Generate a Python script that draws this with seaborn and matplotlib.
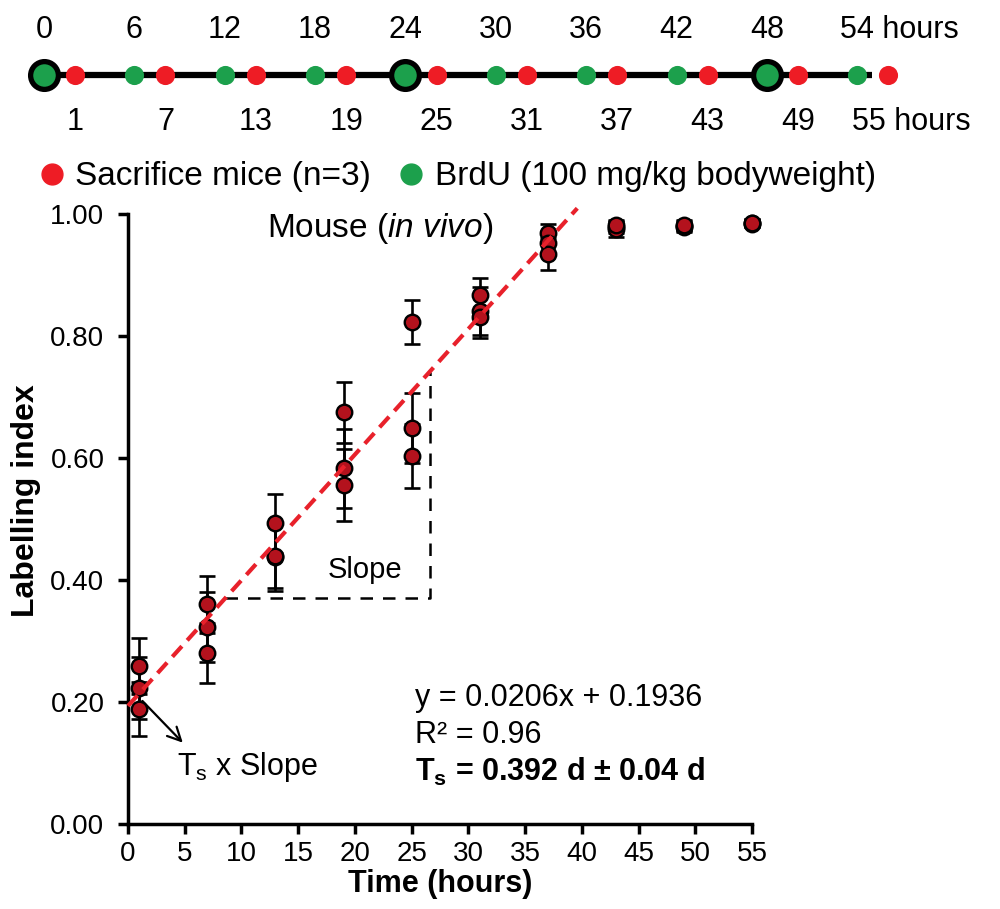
import numpy as np
import pandas as pd
import matplotlib
matplotlib.use("Agg")
import matplotlib.pyplot as plt
import matplotlib.transforms as mtransforms
from matplotlib.lines import Line2D
import seaborn as sns

# ---------------- data ----------------
time_h = [1, 1, 1, 7, 7, 7, 13, 13, 13, 19, 19, 19, 25, 25, 25,
          31, 31, 31, 37, 37, 37, 43, 43, 43, 49, 49, 49, 55, 55, 55]
labelling_index = [0.259, 0.223, 0.188, 0.360, 0.323, 0.280,
                   0.493, 0.437, 0.440, 0.675, 0.583, 0.556,
                   0.823, 0.649, 0.603, 0.867, 0.841, 0.831,
                   0.969, 0.952, 0.934, 0.979, 0.975, 0.982,
                   0.980, 0.978, 0.982, 0.985, 0.984, 0.986]
sd = [0.046, 0.051, 0.044, 0.047, 0.057, 0.049,
      0.048, 0.055, 0.053, 0.050, 0.065, 0.059,
      0.036, 0.057, 0.052, 0.028, 0.040, 0.034,
      0.015, 0.020, 0.026, 0.010, 0.012, 0.008,
      0.008, 0.008, 0.008, 0.006, 0.006, 0.006]

fit_slope = 0.0206
fit_intercept = 0.1936
fit_x_range = [0, 39.6]
slope_box_x = [8.56, 26.6]

brdu_hours = [0, 6, 12, 18, 24, 30, 36, 42, 48, 54]
sacrifice_hours = [1, 7, 13, 19, 25, 31, 37, 43, 49, 55]
ring_hours = [0, 24, 48]
brdu_labels = ["0", "6", "12", "18", "24", "30", "36", "42", "48", "54 hours"]
sacrifice_labels = ["1", "7", "13", "19", "25", "31", "37", "43", "49", "55 hours"]

x_ticks = [0, 5, 10, 15, 20, 25, 30, 35, 40, 45, 50, 55]
y_ticks = [0.0, 0.2, 0.4, 0.6, 0.8, 1.0]
y_ticklabels = ["0.00", "0.20", "0.40", "0.60", "0.80", "1.00"]

df = pd.DataFrame({"time": time_h, "li": labelling_index, "sd": sd})

# ---------------- style ----------------
sns.set_theme(style="ticks")
plt.rcParams["font.family"] = ["Liberation Sans", "DejaVu Sans"]
plt.rcParams["mathtext.fontset"] = "custom"
plt.rcParams["mathtext.rm"] = "Liberation Sans"
plt.rcParams["mathtext.it"] = "Liberation Sans:italic"
plt.rcParams["mathtext.bf"] = "Liberation Sans:bold"
for k in ["text.color", "axes.labelcolor", "xtick.color", "ytick.color"]:
    plt.rcParams[k] = "black"

RED_PT = "#b3121d"
RED_TOP = "#ee1c25"
GREEN = "#1ca04c"
RED_LINE = "#e8212b"

fig = plt.figure(figsize=(10, 9.09), dpi=100)

# ---------------- main axes ----------------
ax = fig.add_axes([0.128, 0.0935, 0.624, 0.6711])

ax.errorbar(df["time"], df["li"], yerr=df["sd"], fmt="none", ecolor="black",
            elinewidth=1.9, capsize=6, capthick=1.9, zorder=2, clip_on=False)
sns.scatterplot(data=df, x="time", y="li", color=RED_PT, edgecolor="black",
                s=125, linewidth=1.7, zorder=3, ax=ax, clip_on=False, legend=False)

fx = np.array(fit_x_range)
ax.plot(fx, fit_slope * fx + fit_intercept, color=RED_LINE, lw=3,
        ls=(0, (3.4, 1.9)), zorder=4, clip_on=False)

# slope triangle (dashed)
by = fit_slope * np.array(slope_box_x) + fit_intercept
ax.plot([slope_box_x[0], slope_box_x[1], slope_box_x[1]], [by[0], by[0], by[1]],
        color="black", lw=1.8, ls=(0, (5, 4)), zorder=1)
ax.text(20.9, 0.416, "Slope", fontsize=21, ha="center", va="center")

# arrow
ax.annotate("", xy=(5.0, 0.13), xytext=(1.1, 0.205),
            arrowprops=dict(arrowstyle="->", lw=1.6, color="black", mutation_scale=24))
ax.text(4.3, 0.080, r"$\mathregular{T_s}$ x Slope", fontsize=22, ha="left", va="baseline")

# equation block
ax.text(25.3, 0.193, "y = 0.0206x + 0.1936", fontsize=22, ha="left", va="baseline")
ax.text(25.3, 0.132, "R² = 0.96", fontsize=22, ha="left", va="baseline")
ax.text(25.3, 0.071, r"$\mathbf{T_s}$ = 0.392 d ± 0.04 d", fontsize=22,
        ha="left", va="baseline", fontweight="bold")

ax.text(22.2, 0.977, r"Mouse ($\mathit{in\ vivo}$)", fontsize=24, ha="center", va="center")

ax.set_xlim(0, 55)
ax.set_ylim(0, 1)
ax.set_xticks(x_ticks)
ax.set_yticks(y_ticks)
ax.set_yticklabels(y_ticklabels)
ax.tick_params(axis="both", labelsize=20, length=7, width=2.5, color="black",
               direction="out")
ax.tick_params(axis="y", pad=10)
ax.tick_params(axis="x", pad=5)
for s in ["left", "bottom"]:
    ax.spines[s].set_linewidth(2.5)
    ax.spines[s].set_color("black")
sns.despine(ax=ax)
ax.set_xlabel("Time (hours)", fontsize=22, fontweight="bold", labelpad=2)
ax.set_ylabel("Labelling index", fontsize=23, fontweight="bold")
ax.yaxis.set_label_coords(-0.14, 0.53)

# ---------------- timeline axes ----------------
ax_t = fig.add_axes([0, 1 - 200 / 909, 1, 200 / 909])
px_per_h = 15.06
ax_t.set_xlim(-44 / px_per_h, (1000 - 44) / px_per_h)
ax_t.set_ylim(0, 1)
ax_t.axis("off")

y_line = 0.625
red_shift = mtransforms.offset_copy(ax_t.transData, fig=fig, x=16, y=0, units="dots")

ax_t.plot([brdu_hours[0], sacrifice_hours[-1]], [y_line, y_line], color="black",
          lw=4.5, solid_capstyle="butt", zorder=1)
ax_t.scatter(ring_hours, [y_line] * len(ring_hours), s=400, facecolor=GREEN,
             edgecolor="black", linewidth=3.8, zorder=3)
ax_t.scatter(brdu_hours, [y_line] * len(brdu_hours), s=190, color=GREEN,
             linewidth=0, zorder=4)
ax_t.scatter(sacrifice_hours, [y_line] * len(sacrifice_hours), s=190, color=RED_TOP,
             linewidth=0, zorder=4, transform=red_shift)

last_shift_g = mtransforms.offset_copy(ax_t.transData, fig=fig, x=-17, y=0, units="dots")
last_shift_r = mtransforms.offset_copy(ax_t.transData, fig=fig, x=-20, y=0, units="dots")
for h, lab in zip(brdu_hours, brdu_labels):
    if "hours" in lab:
        ax_t.text(h, 0.85, lab, fontsize=22, ha="left", va="center", transform=last_shift_g)
    else:
        ax_t.text(h, 0.85, lab, fontsize=22, ha="center", va="center")
for h, lab in zip(sacrifice_hours, sacrifice_labels):
    if "hours" in lab:
        ax_t.text(h, 0.39, lab, fontsize=22, ha="left", va="center", transform=last_shift_r)
    else:
        ax_t.text(h, 0.39, lab, fontsize=22, ha="center", va="center", transform=red_shift)

handles = [
    Line2D([], [], marker="o", ls="", markerfacecolor=RED_TOP, markeredgecolor=RED_TOP,
           markersize=15, label="Sacrifice mice (n=3)"),
    Line2D([], [], marker="o", ls="", markerfacecolor=GREEN, markeredgecolor=GREEN,
           markersize=15, label="BrdU (100 mg/kg bodyweight)"),
]
fig.legend(handles=handles, loc="center left", bbox_to_anchor=(0.042, 1 - 177 / 909),
           ncol=2, frameon=False, fontsize=24, handlelength=0.6, handletextpad=0.4,
           columnspacing=0.9, borderaxespad=0, borderpad=0)

fig.savefig("out.png", dpi=100)
